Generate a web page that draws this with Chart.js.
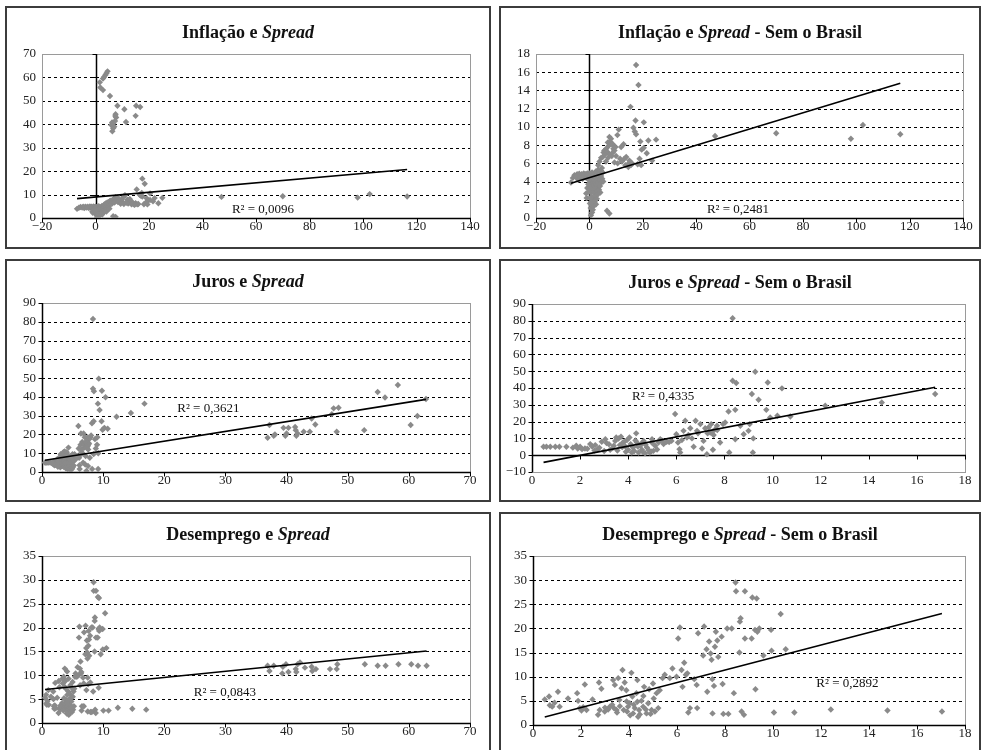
<!DOCTYPE html>
<html><head><meta charset="utf-8">
<script src="https://cdn.jsdelivr.net/npm/chart.js@4.4.0/dist/chart.umd.min.js"></script>
<style>
html,body{margin:0;padding:0;background:#fff;}
#wrap{position:relative;width:982px;height:750px;overflow:hidden;background:#fff;}
.box{position:absolute;border:2px solid #3c3c3c;box-sizing:border-box;pointer-events:none;}
canvas{position:absolute;}
.ttl{position:absolute;text-align:center;font-family:"Liberation Serif","Times New Roman",serif;font-weight:bold;font-size:18px;line-height:20px;color:#111;white-space:nowrap;}
</style></head><body><div id="wrap"></div>
<script>
// ---------------- DATA ----------------
// Inflação (x) vs Spread (y), countries other than Brazil
const inflSpreadOther = [
 [-6.9,3.9],[-6.2,4.4],[-5.6,4.7],[-5.0,4.5],[-4.6,4.8],[-4.2,4.2],[-3.8,4.85],[-3.3,4.5],[-2.9,4.8],[-2.5,4.3],[-2.1,4.9],[-1.9,4.6],[-1.5,4.8],[-1.2,4.4],[-0.8,4.9],[-0.5,4.6],[-0.3,4.2],
 [0,4.9],[0.2,4.5],[0.3,3.9],[0.4,3.4],[0.5,2.8],[0.6,4.7],[0.7,4.1],[0.8,3.6],[0.9,2.3],[1.0,5.0],[1.1,4.4],[1.2,3.8],[1.3,3.1],[1.4,2.0],[1.5,4.8],[1.6,4.2],[1.7,3.5],[1.8,2.7],[1.9,1.7],[2.0,4.6],[2.1,3.9],[2.2,3.3],[2.3,2.4],[2.4,5.1],[2.5,4.4],[2.6,3.7],[2.7,3.0],[2.8,2.1],[2.9,4.8],[3.0,4.1],[3.1,3.4],[3.2,2.6],[3.3,5.3],[3.4,4.5],[3.5,3.8],[3.6,3.1],[3.8,4.9],[3.9,4.2],[4.0,3.5],[4.1,2.8],[4.3,5.2],[4.4,4.6],[4.5,3.9],[4.7,5.5],[4.8,4.3],[5.0,5.0],[5.2,4.0],
 [-1.2,2.7],[-0.8,3.3],[-0.4,3.7],[-1.0,2.2],[0.2,1.6],[0.5,1.1],[0.6,0.3],[1.0,0.6],[1.3,0.9],[1.1,1.4],[0.3,2.2],[0.8,1.8],[1.6,1.3],[2.1,1.9],[2.5,1.5],[0,3.3],[-0.2,2.9],
 [6.6,0.8],[7.5,0.5],
 [3.3,5.8],[3.8,6.2],[4.4,6.6],[5.0,6.7],[5.3,7.2],[5.6,7.4],[5.9,7.0],[6.3,7.6],[6.6,7.3],[6.9,8.3],[7.2,7.9],[7.5,8.9],[7.8,8.4],[8.1,8.7],[8.4,8.1],[8.8,8.1],[9.0,7.6],[9.4,7.4],[7.5,7.0],[8.4,6.8],[10.0,6.8],[6.2,6.2],[7.0,6.6],[9.8,7.8],[10.5,9.1],[11.0,9.7],[8.8,7.2],[9.4,6.1],[10.6,6.0],
 [11.9,7.8],[12.8,8.1],[13.1,6.5],[13.8,6.7],[14.4,5.9],[15.0,6.3],[15.6,5.8],[14.6,5.6],[15.4,12.2],[16.5,9.9],[17.0,9.5],[17.5,9.2],[17.3,10.7],[17.5,16.8],[18.4,14.6],[20.4,10.5],[19.1,8.4],[19.6,7.5],[20.4,7.7],[22.1,8.5],[25.0,8.6],[18.8,6.5],[18.1,5.9],[23.5,6.3],[19.4,5.8],[21.5,7.1],[12.2,6.2],[13.5,5.8],[16.0,6.0],[11.5,6.5],
 [47.1,9.0],[70.0,9.3],[98.0,8.7],[102.5,10.2],[116.5,9.2]
];
// Inflação (x) vs Spread (y), Brazil
const inflSpreadBrazil = [
 [4.5,62.6],[4.1,61.8],[3.7,61.0],[3.2,60.2],[2.8,59.5],[1.6,57.9],[1.8,55.7],[2.8,54.6],[5.4,52.1],[8.2,47.9],[10.8,46.4],[15.2,47.9],[16.7,47.4],[15.0,43.6],[11.4,41.0],[7.5,44.3],[7.7,42.9],[7.3,41.4],[6.6,40.3],[5.9,39.7],[6.6,38.3],[6.3,37.0],[7.0,39.0],[7.4,43.5],[6.2,40.8]
];
// Spread (x) vs Juros (y), countries other than Brazil
const spreadJurosOther = [
 [0.48,5],[0.6,5],[0.76,5],[0.97,5],[1.14,5],[1.43,5],[1.84,5.6],[1.9,4],[2.0,5],[2.08,3.6],[2.2,4],[2.42,6.6],[2.63,6],[2.73,3.6],[2.9,8],[3.05,9.5],[3.1,7.2],[3.25,3.2],[3.4,5.6],[3.46,8.5],[3.6,9.9],[3.7,11],[3.78,7.6],[3.88,5.2],[3.95,9],[4.0,3.2],[4.1,6.6],[4.15,1.6],[4.2,4.6],[4.33,13],[4.36,7.6],[4.43,1.6],[4.5,5.6],[4.57,3.2],[4.64,8.5],[4.7,1.2],[4.78,4.6],[4.9,1.6],[4.99,9.5],[5.05,2.6],[5.12,5.6],[5.26,7.6],[5.33,9.5],[5.47,6.6],[5.6,8],[5.8,8.5],[5.95,24.5],[6.0,12.5],[6.07,7.6],[6.13,3.6],[6.16,1.6],[6.23,9],[6.3,14.5],[6.37,20.5],[6.44,10.5],[6.58,16],[6.65,10],[6.72,5],[6.8,20.5],[6.86,14.5],[7.0,18.5],[7.07,4],[7.13,8.5],[7.27,0.6],[7.34,16.5],[7.41,13.5],[7.45,18.5],[7.52,3.2],[7.55,12],[7.62,15.5],[7.69,17.5],[7.82,7.6],[7.94,18.5],[8.03,19.5],[8.17,26],[8.2,1.6],[8.34,81.5],[8.34,44.3],[8.45,9.5],[8.45,27],[8.49,43],[8.66,17.5],[8.8,12.5],[9.0,14.5],[9.05,18.5],[9.14,36.4],[9.18,1.6],[9.2,10],[9.28,49.7],[9.42,33],[9.74,27],[9.8,43.3],[9.9,22.5],[10.2,23.5],[10.39,39.8],[10.74,23],[12.19,29.4],[14.54,31.4],[16.76,36.4],
 [2.5,5.2],[2.8,4.5],[3.0,2.5],[3.2,6.5],[3.35,4.2],[3.5,10.5],[3.55,2.8],[3.65,6.0],[3.75,4.8],[3.85,8.2],[3.9,2.0],[4.05,10.5],[4.25,2.5],[4.3,8.8],[4.4,5.2],[4.55,7.0],[4.6,2.0],[4.72,6.2],[4.85,3.0],[4.95,2.2],[5.0,7.2],[5.2,3.4],[5.4,8.8],[6.9,13.0],[7.2,16.0],[7.5,14.0],[7.3,13.0],[6.5,12.0],[7.7,15.0],[5.7,7.8],[2.3,3.8],[2.6,2.8],[1.7,4.5]
];
// Spread (x) vs Juros (y), Brazil
const spreadJurosBrazil = [
 [36.9,18.2],[37.2,25],[37.9,19.3],[38.1,20],[39.5,23.5],[39.8,19.3],[40,20.5],[40.3,23.5],[41.4,24],[41.5,22.3],[41.6,19.3],[41.8,20.5],[42.8,21.4],[43.8,21.4],[44.1,28.5],[44.7,25.3],[47.4,30.8],[47.7,33.9],[48.5,34.2],[48.2,21.4],[52.7,22.3],[54.9,42.6],[56.1,39.7],[58.2,46.3],[60.3,25],[61.4,29.8],[62.8,38.9]
];
// Spread (x) vs Desemprego (y), countries other than Brazil
const spreadDesempOther = [
 [0.49,5.3],[0.67,5.9],[0.7,4.1],[0.8,3.8],[0.9,4.6],[1.04,6.9],[1.11,3.8],[1.46,5.5],[1.84,6.6],[1.88,5],[1.95,3.5],[2.02,3],[2.09,3.7],[2.16,8.4],[2.23,3.1],[2.48,5.3],[2.71,2.1],[2.75,8.8],[2.78,3.1],[2.85,7.5],[2.99,2.8],[3.13,3.2],[3.2,3.8],[3.34,9.3],[3.37,3.5],[3.41,8.3],[3.48,3.1],[3.55,9.7],[3.62,3.9],[3.69,7.6],[3.73,11.4],[3.78,3.1],[3.82,8.8],[3.89,7.2],[3.92,2.8],[3.96,3.8],[4.03,4.5],[4.1,10.8],[4.14,5.9],[4.17,2.4],[4.24,3.5],[4.31,6.6],[4.35,9.3],[4.38,1.7],[4.42,3.1],[4.52,5],[4.59,3.8],[4.63,7.9],[4.73,2.4],[4.8,4.5],[4.84,7.4],[4.94,3.1],[5.0,8.6],[5.03,5.5],[5.08,2.8],[5.15,6.6],[5.22,3.5],[5.28,7.2],[5.4,9.7],[5.49,10.4],[5.7,9.7],[5.81,11.7],[5.98,10],[6.05,17.9],[6.12,20.2],[6.19,11.4],[6.23,7.9],[6.3,12.9],[6.37,10.4],[6.43,10.7],[6.47,2.6],[6.54,3.5],[6.72,9.5],[6.82,8.3],[6.84,3.5],[6.88,19],[7.09,14.4],[7.13,20.4],[7.23,15.7],[7.26,6.9],[7.34,17.3],[7.4,14.8],[7.44,13.5],[7.47,9.5],[7.48,2.4],[7.54,8.1],[7.58,16.2],[7.62,19.3],[7.68,17.5],[7.72,14.1],[7.86,18.3],[7.9,8.5],[7.93,2.3],[8.09,20],[8.14,2.3],[8.28,20],[8.37,6.6],[8.44,29.5],[8.46,27.7],[8.6,15],[8.62,21.4],[8.65,22.1],[8.69,2.8],[8.79,2.1],[8.83,27.7],[8.83,17.9],[9.11,17.9],[9.14,26.4],[9.25,19.7],[9.27,7.4],[9.32,26.2],[9.35,19.3],[9.43,20],[9.6,14.4],[9.92,19.7],[9.94,15.4],[10.04,2.6],[10.32,23],[10.53,15.7],[10.89,2.6],[12.41,3.2],[14.77,3],[17.04,2.8],
 [3.3,4.2],[3.5,2.6],[3.9,4.9],[4.2,4.2],[4.45,2.2],[4.6,6.0],[4.7,3.2],[4.9,2.3],[3.6,5.2],[3.0,3.6],[4.05,2.0],[4.35,4.8]
];
// Spread (x) vs Desemprego (y), Brazil
const spreadDesempBrazil = [
 [36.9,12],[37.2,10.9],[37.9,12],[39.4,11.8],[39.3,10.4],[39.9,12.3],[40.3,10.7],[41.5,11.3],[41.6,10.7],[41.8,12.3],[42.2,12.7],[43,11.6],[44.1,11.8],[44.2,10.9],[44.8,11.3],[47.1,11.3],[48.2,11.3],[48.3,12.3],[52.8,12.3],[54.9,12],[56.2,12],[58.3,12.3],[60.4,12.3],[61.5,12],[62.9,12]
];

// Panel titles
const titleFirst = ['Inflação e ', 'Inflação e ', 'Juros e ', 'Juros e ', 'Desemprego e ', 'Desemprego e '];
const titleItalic = ['Spread','Spread','Spread','Spread','Spread','Spread'];
const titleLast = ['', ' - Sem o Brasil', '', ' - Sem o Brasil', '', ' - Sem o Brasil'];
// Axis ranges and tick steps [min, max, step]
const xAxis = [[-20,140,20],[-20,140,20],[0,70,10],[0,18,2],[0,70,10],[0,18,2]];
const yAxis = [[0,70,10],[0,18,2],[0,90,10],[-10,90,10],[0,35,5],[0,35,5]];
// Linear trend lines (slope, intercept) and R² labels
const trendSlope = [0.1006, 0.089, 0.52, 2.75, 0.129, 1.296];
const trendIntercept = [8.96, 4.43, 6.0, -5.6, 6.96, 1.01];
const r2Text = ['R² = 0,0096','R² = 0,2481','R² = 0,3621','R² = 0,4335','R² = 0,0843','R² = 0,2892'];
const r2Pos = [[62.6,3.4],[55.7,0.9],[27.2,34],[5.45,34.6],[29.9,6.3],[13.1,8.5]];

const panelData = [
  inflSpreadOther.concat(inflSpreadBrazil),
  inflSpreadOther,
  spreadJurosOther.concat(spreadJurosBrazil),
  spreadJurosOther,
  spreadDesempOther.concat(spreadDesempBrazil),
  spreadDesempOther
];

// ---------------- LAYOUT ----------------
const layout = [
  {left:5,  top:6,   w:486, h:243, l:37, r:21, t:48, b:31},
  {left:499,top:6,   w:482, h:243, l:37, r:18, t:48, b:31},
  {left:5,  top:259, w:486, h:243, l:37, r:21, t:44, b:30},
  {left:499,top:259, w:482, h:243, l:33, r:16, t:45, b:30},
  {left:5,  top:512, w:486, h:243, l:37, r:21, t:44, b:32},
  {left:499,top:512, w:482, h:243, l:34, r:16, t:44, b:30}
];

const FONT = '"Liberation Serif","Times New Roman",serif';
const fmt = v => String(v).replace('-', '\u2212');

const decoPlugin = {
  id: 'deco',
  beforeDatasetsDraw(chart) {
    const {ctx, chartArea: a, scales: {x, y}} = chart;
    ctx.save();
    // dashed horizontal gridlines
    ctx.strokeStyle = '#000'; ctx.lineWidth = 1; ctx.setLineDash([3, 3]);
    y.ticks.forEach(t => {
      if (t.value === y.min || t.value === y.max || t.value === 0) return;
      const py = Math.round(y.getPixelForValue(t.value)) + 0.5;
      ctx.beginPath(); ctx.moveTo(a.left, py); ctx.lineTo(a.right, py); ctx.stroke();
    });
    ctx.setLineDash([]);
    // plot frame
    ctx.strokeStyle = '#9a9a9a';
    ctx.strokeRect(Math.round(a.left) + 0.5, Math.round(a.top) + 0.5, Math.round(a.right - a.left), Math.round(a.bottom - a.top));
    // axes through zero
    const x0 = Math.round(x.getPixelForValue(Math.max(0, x.min))) + 0.5;
    const y0 = Math.round(y.getPixelForValue(Math.max(0, y.min))) + 0.5;
    ctx.strokeStyle = '#000'; ctx.lineWidth = 1.5;
    ctx.beginPath(); ctx.moveTo(a.left, y0); ctx.lineTo(a.right + 1, y0); ctx.stroke();
    ctx.beginPath(); ctx.moveTo(x0, a.top); ctx.lineTo(x0, a.bottom); ctx.stroke();
    ctx.lineWidth = 1;
    x.ticks.forEach(t => {
      const px = Math.round(x.getPixelForValue(t.value)) + 0.5;
      ctx.beginPath(); ctx.moveTo(px, y0); ctx.lineTo(px, y0 + 4); ctx.stroke();
    });
    y.ticks.forEach(t => {
      const py = Math.round(y.getPixelForValue(t.value)) + 0.5;
      ctx.beginPath(); ctx.moveTo(x0 - 4, py); ctx.lineTo(x0, py); ctx.stroke();
    });
    ctx.restore();
  },
  afterDatasetsDraw(chart) {
    const {ctx, scales: {x, y}} = chart;
    const i = chart.options.plugins.deco.idx;
    ctx.save();
    ctx.font = '13px ' + FONT;
    ctx.fillStyle = '#111';
    ctx.textAlign = 'center'; ctx.textBaseline = 'middle';
    ctx.fillText(r2Text[i], x.getPixelForValue(r2Pos[i][0]), y.getPixelForValue(r2Pos[i][1]));
    ctx.restore();
  }
};

const wrap = document.getElementById('wrap');
layout.forEach((L, i) => {
  const cv = document.createElement('canvas');
  cv.width = L.w; cv.height = L.h;
  cv.style.left = L.left + 'px'; cv.style.top = L.top + 'px';
  cv.style.width = L.w + 'px'; cv.style.height = L.h + 'px';
  wrap.appendChild(cv);
  const box = document.createElement('div');
  box.className = 'box';
  box.style.left = L.left + 'px'; box.style.top = L.top + 'px';
  box.style.width = L.w + 'px'; box.style.height = L.h + 'px';
  wrap.appendChild(box);
  const tt = document.createElement('div');
  tt.className = 'ttl';
  tt.style.left = L.left + 'px'; tt.style.width = L.w + 'px';
  tt.style.top = (L.top + L.t - 22 - 10) + 'px';
  tt.innerHTML = titleFirst[i] + '<i>' + titleItalic[i] + '</i>' + titleLast[i];
  wrap.appendChild(tt);

  const pts = panelData[i];
  const xs = pts.map(p => p[0]);
  const xMinD = Math.min(...xs), xMaxD = Math.max(...xs);
  const trend = [xMinD, xMaxD].map(xv => ({x: xv, y: trendSlope[i] * xv + trendIntercept[i]}));

  new Chart(cv.getContext('2d'), {
    type: 'scatter',
    data: {
      datasets: [
        {data: trend, showLine: true, borderColor: '#000', borderWidth: 1.6, pointRadius: 0, fill: false},
        {data: pts.map(p => ({x: p[0], y: p[1]})), pointStyle: 'rectRot', pointRadius: 3.2, pointBackgroundColor: '#8a8a8a', pointBorderWidth: 0, showLine: false}
      ]
    },
    options: {
      responsive: false, animation: false, devicePixelRatio: 1,
      layout: {padding: {top: L.t, right: L.r, left: 0, bottom: 0}},
      plugins: {legend: {display: false}, tooltip: {enabled: false}, title: {display: false}, deco: {idx: i}},
      scales: {
        x: {
          type: 'linear', min: xAxis[i][0], max: xAxis[i][1],
          grid: {display: false, drawTicks: false}, border: {display: false},
          ticks: {stepSize: xAxis[i][2], autoSkip: false, maxRotation: 0, padding: 1, color: '#222', font: {family: FONT, size: 13}, callback: v => fmt(v)},
          afterFit: s => { s.height = L.b; }
        },
        y: {
          type: 'linear', min: yAxis[i][0], max: yAxis[i][1],
          grid: {display: false, drawTicks: false}, border: {display: false},
          ticks: {stepSize: yAxis[i][2], autoSkip: false, padding: 6, color: '#222', font: {family: FONT, size: 13}, callback: v => fmt(v)},
          afterFit: s => { s.width = L.l; }
        }
      }
    },
    plugins: [decoPlugin]
  });
});
</script>
</body></html>
